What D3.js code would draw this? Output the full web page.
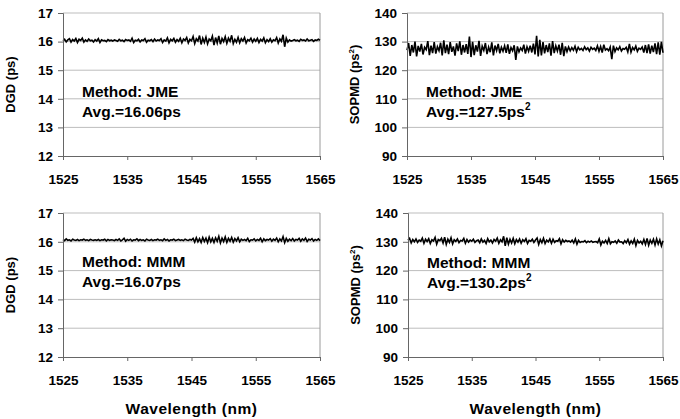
<!DOCTYPE html>
<html>
<head>
<meta charset="utf-8">
<script src="https://cdn.jsdelivr.net/npm/d3@7"></script>
<style>
    body { margin: 0; background: #fff; }
    text { font-family: "Liberation Sans", Arial, sans-serif; font-weight: bold; fill: #000; }
</style>
</head>
<body>
<svg id="chart" width="680" height="419"></svg>
<script>
// wavelength axis
var xTicks = [1525, 1535, 1545, 1555, 1565];
var wlStart = 1525, wlStep = 0.25;

var dgdTicks = [12, 13, 14, 15, 16, 17];
var sopmdTicks = [90, 100, 110, 120, 130, 140];

// DGD (ps), JME method
var dgdJme = [
    16.03,16.08,15.99,16.06,16.10,15.98,16.07,16.02,16.11,15.97,16.08,16.04,16.12,15.98,16.06,16.01,16.09,16.03,16.05,15.99,16.07,
    16.02,16.10,15.97,16.06,16.03,16.04,16.00,16.07,16.03,16.05,16.02,16.06,16.04,16.01,16.08,16.03,16.05,16.00,16.07,16.04,
    16.06,16.01,16.12,15.97,16.05,16.03,16.08,15.99,16.06,16.04,16.10,15.98,16.05,16.03,16.07,16.00,16.09,16.02,16.06,16.04,
    16.10,15.97,16.06,16.02,16.13,15.96,16.08,16.03,16.11,15.98,16.07,16.01,16.12,15.96,16.09,16.04,16.14,15.95,16.08,16.03,
    16.18,15.93,16.10,16.02,16.21,15.90,16.12,15.97,16.16,15.92,16.09,16.03,16.19,15.88,16.14,15.95,16.20,15.91,16.11,16.00,
    16.17,15.94,16.12,16.01,16.22,15.93,16.08,15.98,16.15,15.96,16.10,16.02,16.14,15.95,16.07,16.03,16.12,15.98,16.09,16.01,
    16.11,15.97,16.08,16.02,16.13,15.96,16.07,16.00,16.10,15.98,16.06,16.03,16.14,15.95,16.09,16.01,16.24,15.82,16.12,15.98,
    16.06,16.02,16.04,16.07,16.03,16.05,16.01,16.08,16.04,16.06,16.02,16.09,16.03,16.05,16.07,16.01,16.06,16.04,16.08,16.05
];

// SOPMD (ps^2), JME method
var sopmdJme = [
    127.0,129.5,125.0,128.8,126.2,130.0,124.8,128.5,126.5,129.2,125.5,128.0,127.2,130.2,125.3,128.6,126.0,129.8,125.8,128.2,126.8,
    129.6,125.2,130.4,126.0,128.9,125.6,129.8,126.4,128.3,125.1,129.4,126.7,130.1,125.4,128.8,126.2,129.1,125.7,131.8,124.6,
    129.9,125.3,128.7,126.5,130.3,125.0,128.4,126.9,129.5,125.6,128.1,126.3,129.7,125.2,128.6,126.8,129.2,125.9,128.0,126.6,
    128.5,126.1,129.0,125.7,127.9,126.8,128.7,123.6,128.3,126.4,127.8,126.9,128.9,125.8,128.2,126.6,128.6,126.2,129.3,125.5,
    132.0,124.8,130.6,125.2,129.8,125.9,128.8,126.3,129.4,125.1,130.2,126.0,128.5,126.7,128.9,125.4,129.6,124.9,128.3,126.5,
    128.1,126.8,127.9,127.0,128.4,126.5,128.0,127.1,127.6,126.9,128.2,127.2,127.8,126.7,128.0,127.3,127.7,126.9,128.5,126.6,
    128.3,126.2,128.9,127.0,127.5,126.8,128.1,123.9,128.6,126.5,127.8,127.1,128.2,126.7,127.6,127.3,128.0,126.4,129.2,126.3,
    127.9,127.1,128.4,126.6,127.7,127.3,128.1,126.2,128.8,126.0,129.0,125.8,128.6,126.3,129.4,125.6,129.7,125.4,129.9,126.1
];

// DGD (ps), MMM method
var dgdMmm = [
    16.08,16.04,16.10,16.05,16.07,16.03,16.09,16.06,16.05,16.08,16.04,16.07,16.06,16.09,16.05,16.07,16.04,16.08,16.06,16.05,16.07,
    16.05,16.08,16.04,16.07,16.06,16.09,16.03,16.08,16.05,16.07,16.06,16.04,16.08,16.05,16.10,16.03,16.07,16.12,16.02,16.08,
    16.05,16.09,16.03,16.07,16.06,16.10,16.04,16.08,16.05,16.07,16.03,16.09,16.06,16.05,16.08,16.04,16.07,16.06,16.09,16.05,
    16.07,16.04,16.10,16.05,16.08,16.03,16.07,16.06,16.09,16.04,16.06,16.08,16.05,16.07,16.04,16.09,16.06,16.05,16.08,16.06,
    16.12,15.99,16.14,16.00,16.11,15.98,16.15,16.01,16.13,15.97,16.16,16.00,16.12,15.98,16.14,16.02,16.19,15.96,16.13,16.01,
    16.17,15.98,16.12,16.02,16.15,15.99,16.11,16.03,16.14,16.00,16.09,16.05,16.08,16.04,16.12,16.01,16.07,16.06,16.10,16.03,
    16.08,16.05,16.12,16.00,16.10,16.04,16.08,16.06,16.11,16.02,16.09,16.05,16.13,16.00,16.10,16.03,16.18,15.97,16.12,16.02,
    16.09,16.04,16.11,16.03,16.08,16.06,16.12,16.02,16.10,16.05,16.13,16.01,16.09,16.06,16.11,16.03,16.08,16.05,16.10,16.04
];

// SOPMD (ps^2), MMM method
var sopmdMmm = [
    130.5,131.2,129.6,130.8,130.0,131.0,129.8,130.6,130.2,131.3,129.5,130.9,130.1,131.1,129.4,130.7,130.3,131.5,129.2,130.8,130.4,
    131.2,129.6,131.6,129.1,130.9,129.8,131.4,129.3,130.7,130.1,131.0,129.7,130.5,130.3,131.2,129.5,130.8,129.9,130.6,130.2,
    130.9,129.8,130.4,130.6,129.7,131.0,129.9,130.5,129.4,131.1,130.0,130.6,129.6,130.8,130.2,131.3,129.5,130.7,130.0,131.9,
    128.6,131.4,129.2,130.9,129.6,131.2,129.3,130.8,129.9,131.0,129.5,130.7,130.1,131.1,129.4,130.5,130.2,130.9,129.8,130.6,
    131.3,129.1,130.8,129.7,131.2,129.4,130.6,130.0,131.0,129.5,130.9,129.8,130.4,130.2,131.1,129.3,130.7,129.9,130.5,130.1,
    130.3,129.9,130.6,129.6,131.0,129.2,130.5,129.8,130.1,130.0,130.4,129.7,130.2,129.9,130.3,129.8,130.0,130.1,129.7,131.0,
    128.9,130.2,129.6,130.5,129.4,131.1,129.3,130.0,129.8,130.3,129.5,130.6,129.9,130.0,129.4,130.4,129.7,130.8,129.2,130.3,
    129.4,130.9,128.7,130.5,129.6,130.2,129.3,130.8,129.1,131.2,128.8,130.6,129.5,130.9,128.9,131.0,129.2,130.7,128.6,130.4
];

var svg = d3.select("#chart");

// one panel per method / quantity
var panels = [
    { data: dgdJme,   ticks: dgdTicks,   ylabel: "DGD (ps)", sup: false, method: "Method: JME", avg: "Avg.=16.06ps",  avgSup: "",  left: 63,  top: 13,  right: 320, bottom: 156, noteY: 97,  xtitle: false },
    { data: sopmdJme, ticks: sopmdTicks, ylabel: "SOPMD (ps", sup: true, method: "Method: JME", avg: "Avg.=127.5ps", avgSup: "2", left: 407, top: 13,  right: 663, bottom: 156, noteY: 97,  xtitle: false },
    { data: dgdMmm,   ticks: dgdTicks,   ylabel: "DGD (ps)", sup: false, method: "Method: MMM", avg: "Avg.=16.07ps",  avgSup: "",  left: 63,  top: 213, right: 320, bottom: 357, noteY: 267, xtitle: true },
    { data: sopmdMmm, ticks: sopmdTicks, ylabel: "SOPMD (ps", sup: true, method: "Method: MMM", avg: "Avg.=130.2ps", avgSup: "2", left: 408, top: 213, right: 663, bottom: 357, noteY: 268, xtitle: true }
];

panels.forEach(drawPanel);

function drawPanel(p) {
    var x = d3.scaleLinear().domain([1525, 1565]).range([p.left, p.right]);
    var y = d3.scaleLinear().domain([p.ticks[0], p.ticks[p.ticks.length - 1]]).range([p.bottom, p.top]);

    var g = svg.append("g");

    // horizontal gridlines
    g.selectAll("line.grid")
        .data(p.ticks.slice(1))
        .enter().append("line")
        .attr("class", "grid")
        .attr("x1", p.left).attr("x2", p.right)
        .attr("y1", function (d) { return y(d); })
        .attr("y2", function (d) { return y(d); })
        .style("stroke", "#bdbdbd")
        .style("stroke-width", 1);

    // right border of the plot area
    g.append("line")
        .attr("x1", p.right).attr("x2", p.right)
        .attr("y1", p.top).attr("y2", p.bottom)
        .style("stroke", "#9a9a9a");

    // the trace
    var line = d3.line()
        .x(function (d, i) { return x(wlStart + i * wlStep); })
        .y(function (d) { return y(d); });

    g.append("path")
        .datum(p.data)
        .attr("d", line)
        .style("fill", "none")
        .style("stroke", "#000")
        .style("stroke-width", 1.6);

    // y axis
    var yAxis = g.append("g")
        .attr("transform", "translate(" + p.left + ",0)")
        .call(d3.axisLeft(y).tickValues(p.ticks).tickSize(5).tickPadding(5).tickFormat(d3.format("d")));

    // x axis
    var xAxis = g.append("g")
        .attr("transform", "translate(0," + p.bottom + ")")
        .call(d3.axisBottom(x).tickValues(xTicks).tickSize(4).tickPadding(14).tickFormat(d3.format("d")));

    [yAxis, xAxis].forEach(function (a) {
        a.select(".domain").style("stroke", "#666");
        a.selectAll(".tick line").style("stroke", "#666");
        a.selectAll(".tick text")
            .style("font-family", "'Liberation Sans', Arial, sans-serif")
            .style("font-weight", "bold")
            .style("font-size", "13.5px")
            .style("fill", "#000");
    });

    // y axis title
    var cy = (p.top + p.bottom) / 2;
    var cx = p.left - 48;
    var yt = g.append("text")
        .attr("transform", "translate(" + cx + "," + cy + ") rotate(-90)")
        .attr("text-anchor", "middle")
        .style("font-size", "13px")
        .text(p.ylabel);
    if (p.sup) {
        yt.append("tspan").attr("dy", -5).style("font-size", "8px").text("2");
        yt.append("tspan").attr("dy", 5).text(")");
    }

    // annotation
    var nx = p.left + 19;
    g.append("text")
        .attr("x", nx).attr("y", p.noteY)
        .style("font-size", "15.5px")
        .text(p.method);
    var av = g.append("text")
        .attr("x", nx).attr("y", p.noteY + 20)
        .style("font-size", "15.5px")
        .text(p.avg);
    if (p.avgSup) {
        av.append("tspan").attr("dy", -7).style("font-size", "10px").text(p.avgSup);
    }

    // x axis title (bottom row only)
    if (p.xtitle) {
        g.append("text")
            .attr("x", (p.left + p.right) / 2)
            .attr("y", 414)
            .attr("text-anchor", "middle")
            .style("font-size", "15.5px")
            .style("letter-spacing", "0.5px")
            .text("Wavelength (nm)");
    }
}
</script>
</body>
</html>
